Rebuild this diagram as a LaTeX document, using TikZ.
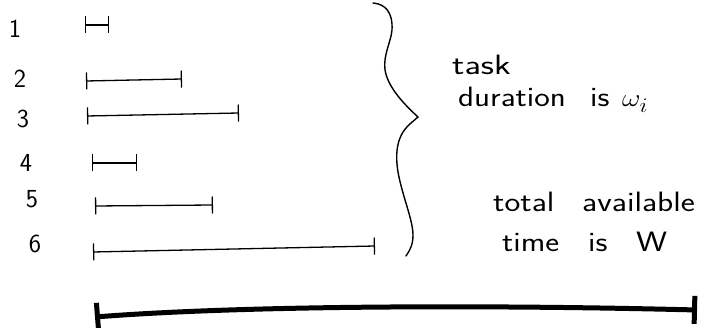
\documentclass[tikz,border=0pt]{standalone}
\usepackage{graphicx}
\usetikzlibrary{arrows.meta}

% words are set a little wider than the font, like handwriting
\newcommand\hw[2][1.18]{\scalebox{#1}[1]{#2}}

\begin{document}
\begin{tikzpicture}[x=1pt,y=-1pt,
  interval/.style={line width=1.3pt,line cap=round,
    {Bar[width=17pt]}-{Bar[width=17pt]}},
  total/.style={line width=5pt,line cap=round,
    {Bar[width=28pt]}-{Bar[width=28pt]}},
  brace/.style={line width=1.4pt,line cap=round,line join=miter},
  idx/.style={font=\sffamily\fontsize{26}{28}\selectfont,inner sep=0pt,anchor=base},
  note/.style={font=\sffamily\fontsize{28}{30}\selectfont,inner sep=0pt,anchor=base west}]

\useasboundingbox (0,0) rectangle (707,328);

% task numbers
\node[idx] (n1) at (15,38)  {1};
\node[idx] (n2) at (20,88)  {2};
\node[idx] (n3) at (23,128) {3};
\node[idx] (n4) at (26,172) {4};
\node[idx] (n5) at (32,208) {5};
\node[idx] (n6) at (35,253) {6};

% task intervals
\coordinate (s1) at (85,25);  \coordinate (e1) at (109,25);
\coordinate (s2) at (86,81);  \coordinate (e2) at (182,79);
\coordinate (s3) at (87,116); \coordinate (e3) at (239,113);
\coordinate (s4) at (92,163); \coordinate (e4) at (137,163);
\coordinate (s5) at (95,206); \coordinate (e5) at (213,205);
\coordinate (s6) at (93,252); \coordinate (e6) at (375,246);
\foreach \k in {1,...,6}{\draw[interval] (s\k) -- (e\k);}

% curly brace
\draw[brace] (373,3) .. controls (385,4) and (393,12) .. (392,30)
  .. controls (391,42) and (383,55) .. (385,70)
  .. controls (388,88) and (405,105) .. (418,117)
  .. controls (410,124) and (404,128) .. (400,138)
  .. controls (396,148) and (396,160) .. (398,172)
  .. controls (402,195) and (413,220) .. (413,235)
  .. controls (413,245) and (410,250) .. (406,256);

% labels
\node[note] (t1) at (452,75)  {\hw[1.3]{task}};
\node[note] (t2) at (458,107) {\makebox[132pt][l]{\hw{duration}}\makebox[32pt][l]{\hw{is}}\hw[1.15]{$\omega_i$}};
\node[note] (t3) at (493,212) {\makebox[89pt][l]{\hw[1.2]{total}}\hw[1.2]{available}};
\node[note] (t4) at (502,252) {\makebox[86pt][l]{\hw{time}}\makebox[48pt][l]{\hw{is}}\hw[1.25]{W}};

% total available time
\coordinate (bs) at (95,317);
\coordinate (be) at (697,310);
\draw[total] (bs) .. controls (250,305) and (500,305) .. (be);

\end{tikzpicture}
\end{document}
